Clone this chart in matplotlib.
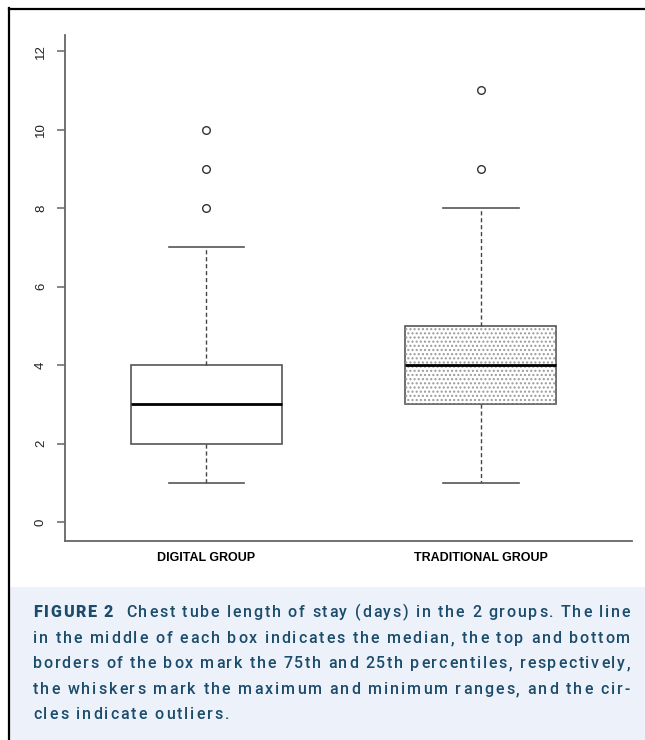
import matplotlib.pyplot as plt
from matplotlib.lines import Line2D
from matplotlib.patches import Rectangle, PathPatch
from matplotlib.font_manager import FontProperties, findfont, get_font

# box statistics
groups = ['DIGITAL GROUP', 'TRADITIONAL GROUP']
q1 = [2, 3]
medians = [3, 4]
q3 = [4, 5]
whisk_lo = [1, 1]
whisk_hi = [7, 8]
outliers = [[8, 9, 10], [9, 11]]
yticks = [0, 2, 4, 6, 8, 10, 12]

caption_lines = [
    'FIGURE 2  Chest tube length of stay (days) in the 2 groups. The line',
    'in the middle of each box indicates the median, the top and bottom',
    'borders of the box mark the 75th and 25th percentiles, respectively,',
    'the whiskers mark the maximum and minimum ranges, and the cir-',
    'cles indicate outliers.',
]

W, H = 645, 740
fig = plt.figure(figsize=(W / 100, H / 100), dpi=100)
plt.rcParams['font.family'] = ['Liberation Sans', 'DejaVu Sans']

ax = fig.add_axes([65 / W, 1 - 541 / H, (632 - 65) / W, (541 - 35) / H])

stats = []
for i in range(len(groups)):
    stats.append(dict(med=medians[i], q1=q1[i], q3=q3[i], whislo=whisk_lo[i],
                      whishi=whisk_hi[i], fliers=outliers[i], label=groups[i]))

bp = ax.bxp(stats, positions=[1, 2], widths=0.55, patch_artist=True,
            boxprops=dict(facecolor='white', edgecolor='#555555', linewidth=1.2),
            medianprops=dict(color='black', linewidth=2.0),
            whiskerprops=dict(color='#444444', linestyle=(0, (3, 2)), linewidth=1.0),
            capprops=dict(color='#555555', linewidth=1.2),
            flierprops=dict(marker='o', markerfacecolor='none', markeredgecolor='#333333',
                            markersize=5.5, markeredgewidth=1.0))

# dotted fill on the traditional box
dots = PathPatch(bp['boxes'][1].get_path(), facecolor='none', edgecolor='#9a9a9a',
                 linewidth=0, hatch='....', zorder=2.05)
ax.add_patch(dots)

ax.set_xlim(0.485, 2.55)
ax.set_ylim(-0.484, 12.41)
ax.set_yticks(yticks)
ax.set_yticklabels([str(t) for t in yticks], rotation=90, va='center', fontsize=9.5, color='#222222')
ax.tick_params(axis='y', length=6, width=1.1, color='#666666', pad=7)
ax.tick_params(axis='x', length=0, pad=8)
for lab in ax.get_xticklabels():
    lab.set_fontweight('bold')
    lab.set_fontsize(9)
for s in ['top', 'right']:
    ax.spines[s].set_visible(False)
for s in ['left', 'bottom']:
    ax.spines[s].set_color('#666666')
    ax.spines[s].set_linewidth(1.3)

# outer frame and caption panel
fig.add_artist(Rectangle((10 / W, 0), 1 - 10 / W, 1 - 587 / H, transform=fig.transFigure,
                         facecolor='#edf2fa', edgecolor='none', zorder=0))
fig.add_artist(Line2D([9 / W, 9 / W], [0, 1 - 8 / H], transform=fig.transFigure,
                      color='black', linewidth=1.6))
fig.add_artist(Line2D([9 / W, 1], [1 - 8.5 / H, 1 - 8.5 / H], transform=fig.transFigure,
                      color='black', linewidth=1.6))

# caption, letter-spaced and justified char by char using glyph advances
x0, x1 = 33, 630
baselines = [617, 643, 668, 694, 719]
cap_color = '#1b4c6b'
fs = 11.5
fonts = {}
for wt in ['medium', 'black']:
    f = get_font(findfont(FontProperties(family='Roboto', weight=wt)))
    f.set_size(fs, 100)
    fonts[wt] = f

track_last = 1.0
for li, line in enumerate(caption_lines):
    items = []
    for ci, ch in enumerate(line):
        wt = 'black' if (li == 0 and ci < 8) else 'medium'
        adv = fonts[wt].load_char(ord(ch)).linearHoriAdvance / 65536
        items.append((ch, wt, adv))
    total = sum(it[2] for it in items)
    if li < len(caption_lines) - 1:
        track = (x1 - x0 - total) / (len(items) - 1)
        track_last = track
    else:
        track = track_last
    pen = x0
    for ch, wt, adv in items:
        if ch != ' ':
            fig.text(pen / W, 1 - baselines[li] / H, ch, fontsize=fs, color=cap_color,
                     family=['Roboto', 'DejaVu Sans'], fontweight=wt, va='baseline')
        pen += adv + track

fig.savefig('out.png', dpi=100)
